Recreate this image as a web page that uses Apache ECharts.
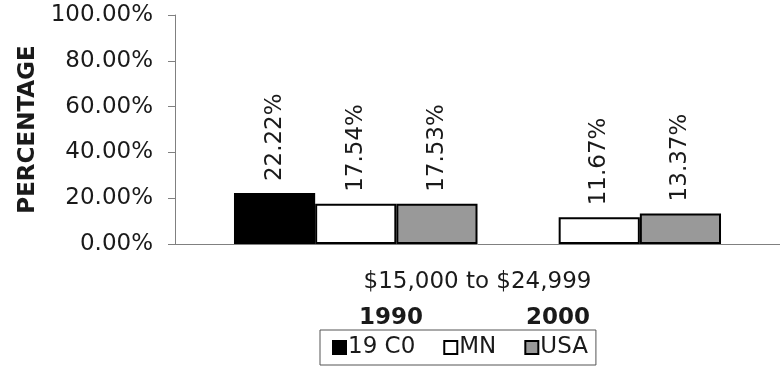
<!DOCTYPE html>
<html><head><meta charset="utf-8">
<script src="https://cdn.jsdelivr.net/npm/echarts@6/dist/echarts.min.js"></script>
<style>html,body{margin:0;padding:0;background:#fff}#c{width:780px;height:372px}</style>
</head><body><div id="c"></div>
<script>
const categories = ['$15,000 to $24,999'];
const years = ['1990', '2000'];
const seriesNames = ['19 C0', 'MN', 'USA'];
const values1990 = [22.22, 17.54, 17.53];
const values2000 = [null, 11.67, 13.37];
const yTicks = [0, 20, 40, 60, 80, 100];

const FONT = 'DejaVu Sans';
const colors = ['#000000', '#ffffff', '#999999'];
const FS = 23;
const TXT = '#1a1a1a';

function mkSeries(name, idx, v) {
  return {
    name: name, type: 'bar',
    data: [v],
    barGap: '0%', barCategoryGap: '19.5%',
    itemStyle: { color: colors[idx], borderColor: '#000', borderWidth: 2 },
    label: {
      show: v != null, position: 'top', rotate: 90, align: 'left', verticalAlign: 'middle',
      distance: 12, fontFamily: FONT, fontSize: FS, color: TXT,
      formatter: p => p.value.toFixed(2) + '%'
    }
  };
}
const series = [];
seriesNames.forEach((n, i) => series.push(mkSeries(n, i, values1990[i])));
seriesNames.forEach((n, i) => series.push(mkSeries(n, i, values2000[i])));

const chart = echarts.init(document.getElementById('c'));
chart.setOption({
  animation: false,
  textStyle: { fontFamily: FONT },
  grid: { left: 175, right: 0, top: 15, bottom: 128, containLabel: false },
  xAxis: {
    type: 'category', data: categories,
    axisLine: { lineStyle: { color: '#808080', width: 1 } },
    axisTick: { show: false },
    axisLabel: { margin: 27, fontFamily: FONT, fontSize: FS, color: TXT }
  },
  yAxis: {
    type: 'value', min: yTicks[0], max: yTicks[yTicks.length - 1], interval: 20,
    name: 'PERCENTAGE', nameLocation: 'middle', nameRotate: 90, nameGap: 134,
    nameTextStyle: { fontFamily: FONT, fontSize: FS, fontWeight: 'bold', color: TXT },
    axisLine: { show: true, lineStyle: { color: '#808080', width: 1 } },
    axisTick: { show: true, length: 7, lineStyle: { color: '#808080' } },
    splitLine: { show: false },
    axisLabel: { margin: 22, fontFamily: FONT, fontSize: FS, color: TXT, formatter: v => v.toFixed(2) + '%' }
  },
  legend: {
    data: seriesNames, left: 320, top: 330, width: 277,
    orient: 'horizontal', icon: 'rect', itemWidth: 13, itemHeight: 13, itemGap: 28,
    padding: [6, 8, 6, 12],
    borderColor: '#555', borderWidth: 1,
    textStyle: { fontFamily: FONT, fontSize: FS, color: TXT, padding: [0, 0, 0, -3] }
  },
  graphic: years.map((y, i) => ({
    type: 'text', x: i === 0 ? 391 : 558, y: 318,
    style: { text: y, font: 'bold ' + FS + 'px "' + FONT + '"', fill: TXT, align: 'center', verticalAlign: 'middle' }
  })),
  series: series
});
</script></body></html>
